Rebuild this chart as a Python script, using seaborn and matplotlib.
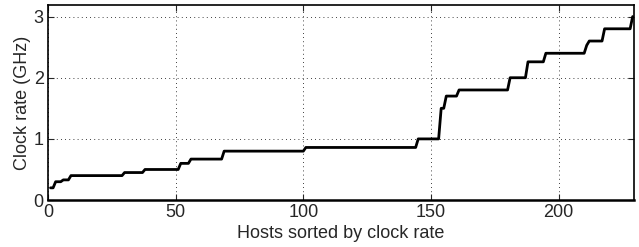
import numpy as np
import pandas as pd
import matplotlib
matplotlib.use("Agg")
import matplotlib.pyplot as plt
import seaborn as sns

# clock rate levels (GHz) and how many hosts sit on each level
clock_levels = [0.2, 0.3, 0.33, 0.4, 0.45, 0.5, 0.6, 0.67, 0.8, 0.86, 1.0,
                1.5, 1.7, 1.8, 2.0, 2.26, 2.4, 2.53, 2.6, 2.8, 3.0]
host_counts = [2, 3, 3, 21, 8, 14, 4, 13, 32, 44, 9,
               2, 5, 20, 7, 7, 16, 1, 6, 11, 1]

x_ticks = [0, 50, 100, 150, 200]
y_ticks = [0, 1, 2, 3]

rates = np.repeat(clock_levels, host_counts)
df = pd.DataFrame({"host": np.arange(1, len(rates) + 1), "rate": rates})

sns.set_style("ticks")
plt.rcParams["font.family"] = ["Liberation Sans", "DejaVu Sans"]

fig = plt.figure(figsize=(6.39, 2.47), dpi=100)
ax = fig.add_axes([0.0751, 0.190, 0.917, 0.790])

sns.lineplot(data=df, x="host", y="rate", color="black", linewidth=2, ax=ax)

ax.set_xlim(0, 229.5)
ax.set_ylim(0, 3.19)
ax.set_xticks(x_ticks)
ax.set_yticks(y_ticks)
ax.grid(True, linestyle=(0, (1, 4)), color="black", linewidth=0.6)
ax.tick_params(direction="in", top=True, right=True, labelsize=13, length=4, width=0.8, pad=3)
for s in ax.spines.values():
    s.set_linewidth(1.2)
    s.set_color("black")
ax.spines["bottom"].set_linewidth(1.8)
ax.set_xlabel("Hosts sorted by clock rate", fontsize=13, labelpad=3)
ax.set_ylabel("Clock rate (GHz)", fontsize=13, labelpad=2)

fig.savefig("out.png", dpi=100)
